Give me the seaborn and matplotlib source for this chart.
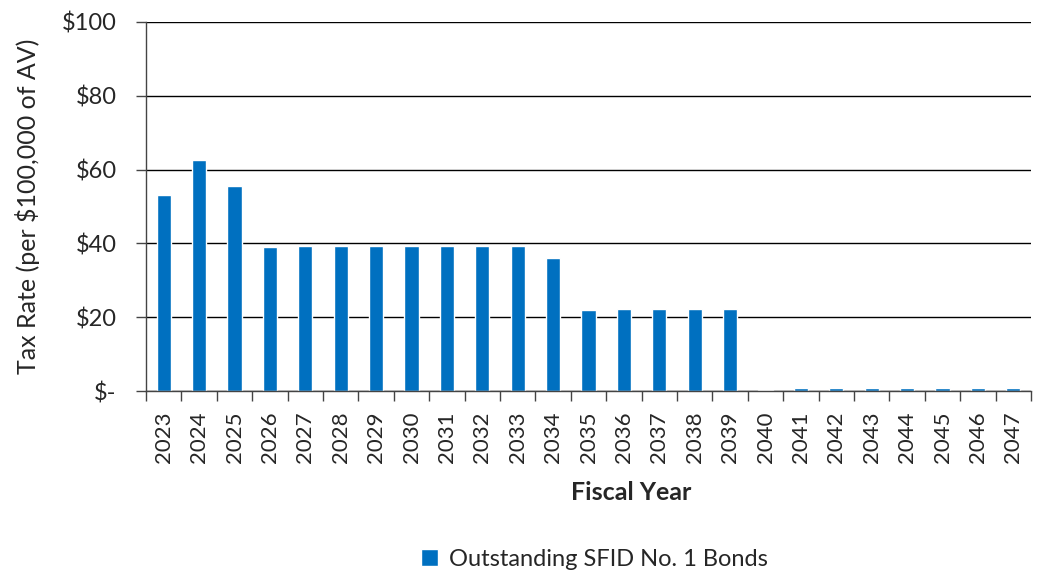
import matplotlib.pyplot as plt
import matplotlib.ticker as mticker
import numpy as np
import pandas as pd
import seaborn as sns

years = [str(y) for y in range(2023, 2048)]
rates = [53.1, 62.6, 55.6, 38.9, 39.3, 39.3, 39.3, 39.3, 39.3, 39.3, 39.3, 36.0,
         21.9, 22.2, 22.2, 22.2, 22.2, 0.3, 0.7, 0.7, 0.7, 0.7, 0.7, 0.7, 0.7]
series_name = "Outstanding SFID No. 1 Bonds"

df = pd.DataFrame({"year": years, "rate": rates, "series": series_name})

sns.set_style("white")
plt.rcParams['font.family'] = ['Lato', 'DejaVu Sans']

fig = plt.figure(figsize=(10.43, 5.74), dpi=100)
ax = fig.add_axes([0.14, 0.3188, 0.8485, 0.6429])

sns.barplot(data=df, x="year", y="rate", hue="series", palette=["#0070C0"],
            width=0.4, saturation=1, ax=ax, legend=True)

ax.set_ylim(0, 100)
ax.set_xlim(-0.5, len(years) - 0.5)
ax.yaxis.set_major_locator(mticker.MultipleLocator(20))
ax.yaxis.set_major_formatter(mticker.FuncFormatter(lambda v, p: "$-" if v == 0 else f"${v:.0f}"))
ax.yaxis.grid(True, color="black", linewidth=1)
ax.set_axisbelow(True)

for s in ["top", "right"]:
    ax.spines[s].set_visible(False)
for s in ["left", "bottom"]:
    ax.spines[s].set_color("#444444")
    ax.spines[s].set_linewidth(1)

ax.tick_params(axis="y", left=True, length=7, width=1, color="#444444", labelsize=17, pad=14)
ax.tick_params(axis="x", which="major", length=0, labelsize=16, labelrotation=90, pad=15)
ax.set_xticks(np.arange(-0.5, len(years), 1), minor=True)
ax.tick_params(axis="x", which="minor", bottom=True, length=7, width=1, color="#444444")

ax.set_ylabel("Tax Rate (per $100,000 of AV)", fontsize=18, labelpad=16)
ax.set_xlabel("Fiscal Year", fontsize=18, fontweight="bold")
ax.xaxis.set_label_coords(0.548, -0.245)

ax.legend(loc="upper center", bbox_to_anchor=(0.507, -0.37), frameon=False,
          fontsize=17, handlelength=0.7, handleheight=0.7, handletextpad=0.5)

fig.savefig("out.png", dpi=100)
